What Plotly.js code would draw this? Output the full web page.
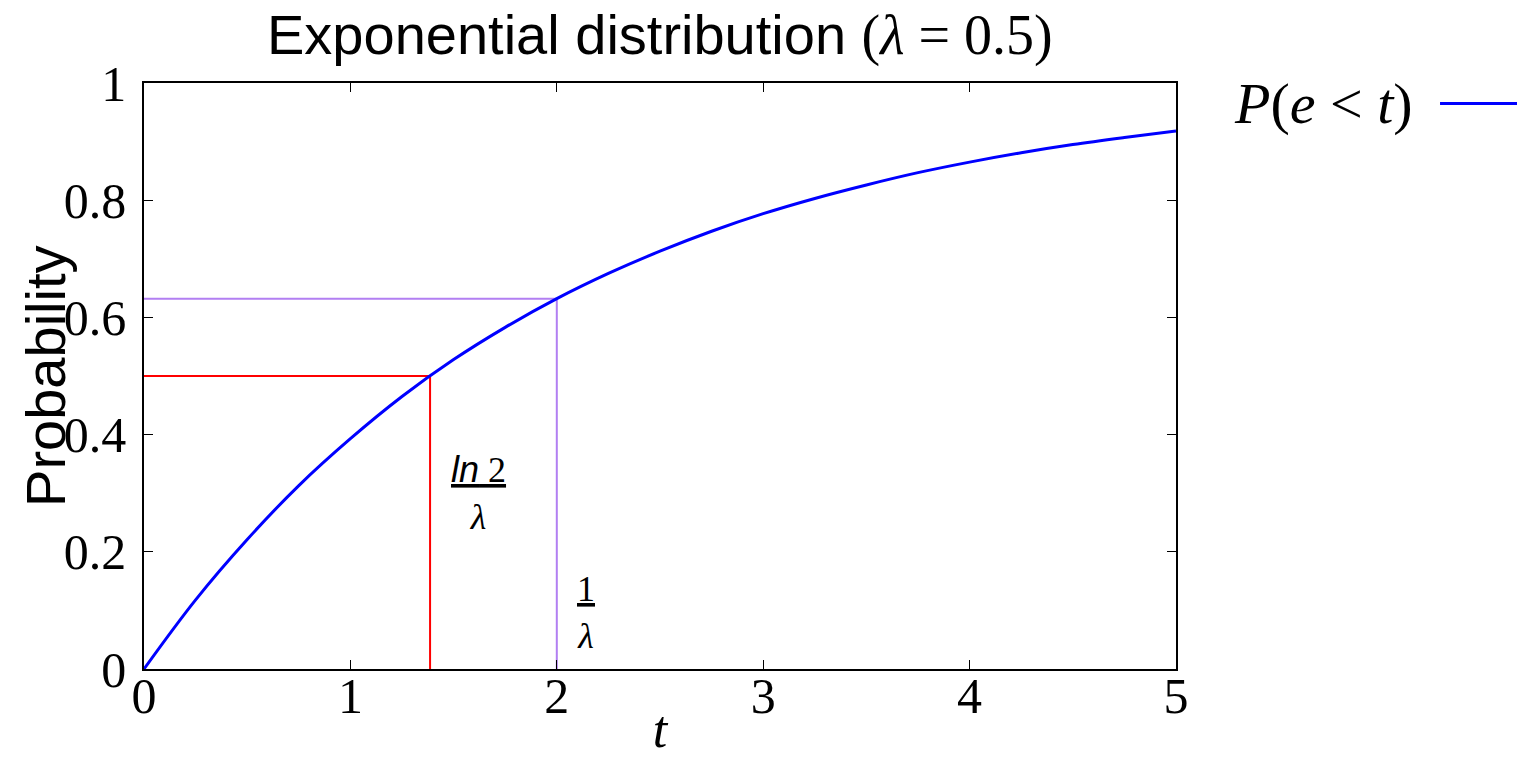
<!DOCTYPE html>
<html>
<head>
<meta charset="utf-8">
<script src="https://cdn.plot.ly/plotly-3.0.1.min.js"></script>
<style>
  body { margin: 0; background: #fff; }
  #plot { width: 1517px; height: 758px; }
</style>
</head>
<body>
<div id="plot"></div>
<script>
var tValues = [0, 0.25, 0.5, 0.75, 1, 1.25, 1.5, 1.75, 2, 2.25, 2.5, 2.75, 3, 3.25, 3.5, 3.75, 4, 4.25, 4.5, 4.75, 5];
var probValues = [0, 0.118, 0.221, 0.313, 0.393, 0.465, 0.528, 0.583, 0.632, 0.675, 0.713, 0.747, 0.777, 0.803, 0.826, 0.847, 0.865, 0.881, 0.895, 0.907, 0.918];

// Marker lines: median (ln2/lambda) and mean (1/lambda)
var medianT = 1.386, medianP = 0.5;
var meanT = 2, meanP = 0.632;

var xTicks = [0, 1, 2, 3, 4, 5];
var yTicks = [0, 0.2, 0.4, 0.6, 0.8, 1];
var yTickText = ["0", "0.2", "0.4", "0.6", "0.8", "1"];

var serif = "Liberation Serif";
var sans = "Liberation Sans Narrow, Liberation Sans, sans-serif";

var curve = {
  x: tValues,
  y: probValues,
  type: "scatter",
  mode: "lines",
  name: " ",
  line: {color: "#0000ff", width: 3, shape: "spline"},
  showlegend: true
};
var medianLine = {
  x: [0, medianT, medianT],
  y: [medianP, medianP, 0],
  type: "scatter",
  mode: "lines",
  line: {color: "#ff0000", width: 2},
  showlegend: false
};
var meanLine = {
  x: [0, meanT, meanT],
  y: [meanP, meanP, 0],
  type: "scatter",
  mode: "lines",
  line: {color: "#b27ff2", width: 2},
  showlegend: false
};
var data = [medianLine, meanLine, curve];

var axisCommon = {
  showgrid: false,
  zeroline: false,
  showline: true,
  linecolor: "#000",
  linewidth: 1.5,
  mirror: "allticks",
  ticks: "inside",
  ticklen: 9,
  tickcolor: "#000",
  tickwidth: 1,
  tickfont: {family: serif, size: 50, color: "#000"}
};

var layout = {
  width: 1517,
  height: 758,
  margin: {l: 144, r: 341, t: 83, b: 89, autoexpand: false},
  paper_bgcolor: "#fff",
  plot_bgcolor: "#fff",
  title: {
    text: "Exponential distribution <span style='font-family:Liberation Serif'>(<i>λ</i> = 0.5)</span>",
    font: {family: sans, size: 56, color: "#000"},
    x: 0.435, xanchor: "center", y: 0.955, yanchor: "middle"
  },
  xaxis: Object.assign({}, axisCommon, {
    range: [0, 5],
    tickvals: xTicks,
    ticktext: xTicks.map(String),
    ticklabelstandoff: -18,
    title: {text: "<i>t</i>", font: {family: serif, size: 52, color: "#000"}, standoff: 0}
  }),
  yaxis: Object.assign({}, axisCommon, {
    range: [0, 1],
    tickvals: yTicks,
    ticktext: yTickText,
    ticklabelstandoff: 6
  }),
  showlegend: true,
  legend: {
    x: 1.251, xanchor: "left", y: 0.965, yanchor: "middle",
    itemwidth: 80,
    font: {family: serif, size: 20},
    bgcolor: "rgba(0,0,0,0)"
  },
  annotations: [
    {
      x: -0.096, y: 0.5, xref: "paper", yref: "paper", showarrow: false,
      xanchor: "center", yanchor: "middle",
      text: "Probability", textangle: -90,
      font: {family: sans, size: 56, color: "#000"}
    },
    {
      x: 1.1425, y: 0.965, xref: "paper", yref: "paper", showarrow: false,
      xanchor: "center", yanchor: "middle",
      text: "<i>P</i>(<i>e</i> < <i>t</i>)",
      font: {family: serif, size: 58, color: "#000"}
    },
    {
      x: 1.62, y: 0.3, xref: "x", yref: "y", showarrow: false,
      text: "<u><i style='font-family:Liberation Sans'>ln</i> 2</u><br><i>λ</i>",
      font: {family: serif, size: 36, color: "#000"}
    },
    {
      x: 2.14, y: 0.097, xref: "x", yref: "y", showarrow: false,
      text: "<u>1</u><br><i>λ</i>",
      font: {family: serif, size: 36, color: "#000"}
    }
  ]
};

Plotly.newPlot("plot", data, layout, {displayModeBar: false});
</script>
</body>
</html>
